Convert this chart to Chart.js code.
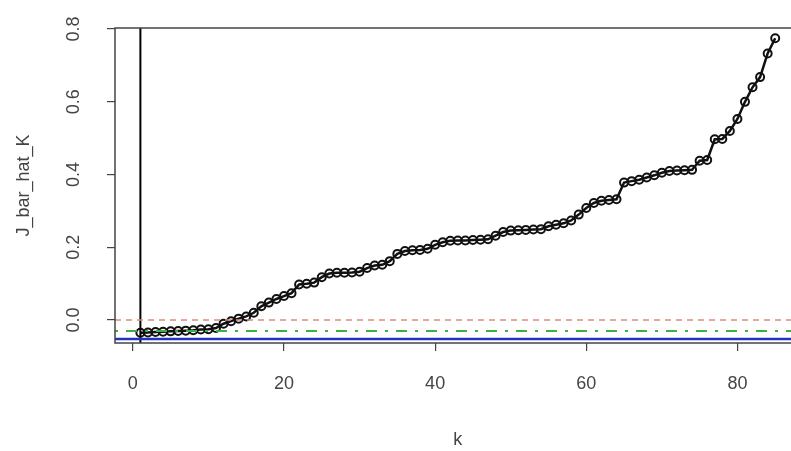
<!DOCTYPE html>
<html>
<head>
<meta charset="utf-8">
<script src="https://cdn.jsdelivr.net/npm/chart.js@4.4.0/dist/chart.umd.min.js"></script>
<style>
  html, body { margin: 0; padding: 0; background: #fff; overflow: hidden; }
  #wrap { width: 791px; height: 451px; overflow: hidden; }
</style>
</head>
<body>
<div id="wrap"><canvas id="grafico" width="810" height="451"></canvas></div>
<script>
// dados
const valoresK = [
  1, 2, 3, 4, 5, 6, 7, 8, 9, 10,
  11, 12, 13, 14, 15, 16, 17, 18, 19, 20,
  21, 22, 23, 24, 25, 26, 27, 28, 29, 30,
  31, 32, 33, 34, 35, 36, 37, 38, 39, 40,
  41, 42, 43, 44, 45, 46, 47, 48, 49, 50,
  51, 52, 53, 54, 55, 56, 57, 58, 59, 60,
  61, 62, 63, 64, 65, 66, 67, 68, 69, 70,
  71, 72, 73, 74, 75, 76, 77, 78, 79, 80,
  81, 82, 83, 84, 85
];
const jBarHatK = [
  -0.035, -0.034, -0.033, -0.032, -0.031, -0.030, -0.029, -0.028, -0.026, -0.025,
  -0.022, -0.010, -0.003, 0.004, 0.010, 0.020, 0.038, 0.048, 0.058, 0.066,
  0.074, 0.098, 0.100, 0.103, 0.118, 0.128, 0.130, 0.130, 0.131, 0.133,
  0.143, 0.150, 0.152, 0.162, 0.182, 0.190, 0.192, 0.193, 0.196, 0.207,
  0.214, 0.218, 0.219, 0.219, 0.220, 0.221, 0.222, 0.232, 0.242, 0.246,
  0.247, 0.248, 0.249, 0.250, 0.258, 0.262, 0.266, 0.274, 0.290, 0.308,
  0.322, 0.328, 0.330, 0.332, 0.378, 0.382, 0.386, 0.392, 0.398, 0.405,
  0.410, 0.411, 0.412, 0.413, 0.438, 0.440, 0.497, 0.498, 0.520, 0.553,
  0.600, 0.640, 0.668, 0.733, 0.775
];

// linhas de referencia
const linhaZero = 0;
const linhaVerde = -0.030;
const linhaAzul = -0.052;
const linhaVertical = 1;

const ticksX = [0, 20, 40, 60, 80];
const ticksY = [0.0, 0.2, 0.4, 0.6, 0.8];
const labelsY = ["0.0", "0.2", "0.4", "0.6", "0.8"];

const xMin = -2.36, xMax = 88.36;
const yMin = -0.063, yMax = 0.803;

const fonte = '18px "Liberation Sans", Arial, sans-serif';
const corTexto = "#444";

const pontos = valoresK.map((k, i) => ({ x: k, y: jBarHatK[i] }));

// caixa, rotulos e titulos no estilo do R
const eixosR = {
  id: "eixosR",
  afterDraw(chart) {
    const ctx = chart.ctx;
    const a = chart.chartArea;
    const sx = chart.scales.x, sy = chart.scales.y;
    ctx.save();
    ctx.strokeStyle = "#444";
    ctx.lineWidth = 1.5;
    ctx.strokeRect(a.left, a.top, a.right - a.left, a.bottom - a.top);

    ctx.fillStyle = corTexto;
    ctx.font = fonte;
    ctx.textAlign = "center";
    ctx.textBaseline = "middle";
    ticksX.forEach(v => ctx.fillText(String(v), sx.getPixelForValue(v), 384));
    ctx.fillText("k", (a.left + a.right) / 2, 440);

    ticksY.forEach((v, i) => {
      ctx.save();
      ctx.translate(74, sy.getPixelForValue(v));
      ctx.rotate(-Math.PI / 2);
      ctx.fillText(labelsY[i], 0, 0);
      ctx.restore();
    });
    ctx.save();
    ctx.translate(24, (a.top + a.bottom) / 2);
    ctx.rotate(-Math.PI / 2);
    ctx.fillText("J_bar_hat_K", 0, 0);
    ctx.restore();
    ctx.restore();
  }
};

new Chart(document.getElementById("grafico"), {
  type: "scatter",
  data: {
    datasets: [
      {
        label: "zero",
        data: [{ x: xMin, y: linhaZero }, { x: xMax, y: linhaZero }],
        showLine: true, borderColor: "#d98a80", borderWidth: 1.5,
        borderDash: [6, 5], pointRadius: 0
      },
      {
        label: "verde",
        data: [{ x: xMin, y: linhaVerde }, { x: xMax, y: linhaVerde }],
        showLine: true, borderColor: "#3cb043", borderWidth: 2,
        borderDash: [3, 8, 11, 8], pointRadius: 0
      },
      {
        label: "azul",
        data: [{ x: xMin, y: linhaAzul }, { x: xMax, y: linhaAzul }],
        showLine: true, borderColor: "#2233bb", borderWidth: 2.5, pointRadius: 0
      },
      {
        label: "vertical",
        data: [{ x: linhaVertical, y: yMin }, { x: linhaVertical, y: yMax }],
        showLine: true, borderColor: "#000", borderWidth: 2, pointRadius: 0
      },
      {
        label: "J_bar_hat_K",
        data: pontos,
        showLine: true,
        borderColor: "#111",
        borderWidth: 2.5,
        pointRadius: 4,
        pointBorderWidth: 2,
        pointBackgroundColor: "rgba(0,0,0,0)",
        pointBorderColor: "#111"
      }
    ]
  },
  options: {
    responsive: false,
    animation: false,
    layout: { padding: { left: 0, top: 28, right: 9.4, bottom: 0 } },
    plugins: { legend: { display: false }, tooltip: { enabled: false } },
    scales: {
      x: {
        type: "linear", min: xMin, max: xMax,
        afterBuildTicks: s => { s.ticks = ticksX.map(v => ({ value: v })); },
        afterFit: s => { s.height = 108; },
        ticks: { display: false },
        grid: { drawOnChartArea: false, drawTicks: true, tickLength: 8, color: "#444", lineWidth: 1.2 },
        border: { display: false }
      },
      y: {
        type: "linear", min: yMin, max: yMax,
        afterBuildTicks: s => { s.ticks = ticksY.map(v => ({ value: v })); },
        afterFit: s => { s.width = 115; },
        ticks: { display: false },
        grid: { drawOnChartArea: false, drawTicks: true, tickLength: 8, color: "#444", lineWidth: 1.2 },
        border: { display: false }
      }
    }
  },
  plugins: [eixosR]
});
</script>
</body>
</html>
